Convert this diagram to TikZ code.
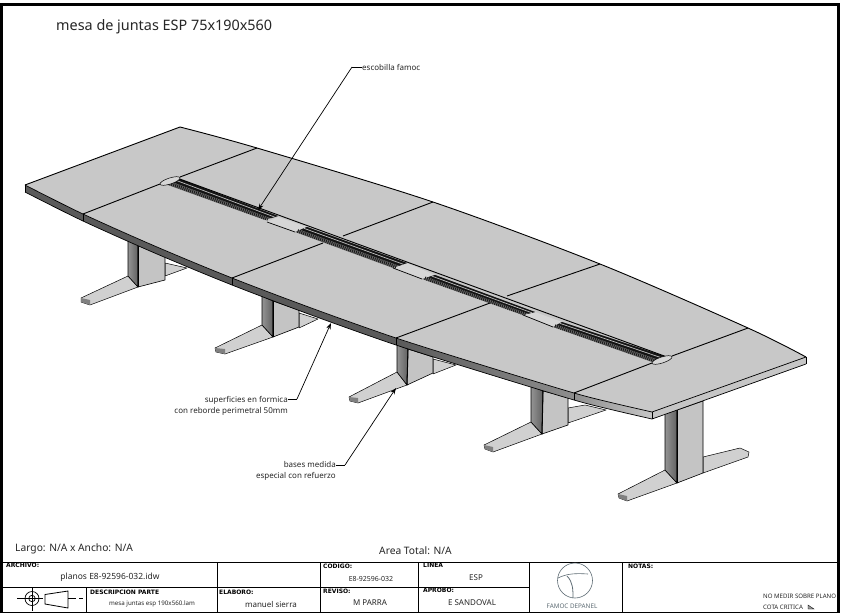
\documentclass[tikz,border=0pt]{standalone}
\usepackage{fontspec}
\setmainfont{Noto Sans}
\newfontfamily\headfont{DejaVu Sans}
\usetikzlibrary{calc,arrows.meta,shapes.geometric}
\definecolor{tabletop}{HTML}{C8C8C8}
\definecolor{edgedark}{HTML}{5A5A5A}
\definecolor{edgemid}{HTML}{8E8E8E}
\definecolor{edgelight}{HTML}{C6C6C6}
\definecolor{legface}{HTML}{C4C4C4}
\definecolor{footlight}{HTML}{D0D0D0}
\definecolor{footdark}{HTML}{808080}
\definecolor{gapfill}{HTML}{D6D6D6}
\definecolor{logoline}{HTML}{5E6C74}
\tikzset{
  ln/.style={draw=black,line width=.7pt,line join=round},
  seam/.style={draw=black,line width=.9pt},
  cap1/.style={inner sep=0pt,font=\fontsize{8}{11}\selectfont,text=black!85},
  leader/.style={draw=black,line width=.7pt},
  leaderarrow/.style={draw=black,line width=.7pt,-{Stealth[length=6.5pt,width=4.5pt]}},
  frame/.style={draw=black,line width=3pt},
  grid/.style={draw=black,line width=.8pt},
  head/.style={inner sep=0pt,anchor=west,font=\fontsize{6}{7}\headfont\bfseries},
  val/.style={inner sep=0pt,font=\fontsize{8}{9}\selectfont,text=black!85},
  tiny/.style={inner sep=0pt,font=\fontsize{6.2}{7}\selectfont,text=black!85},
  rearfoot/.style={fill=footlight,draw=black,line width=.5pt,line join=round},
}
\newcommand{\legpart}[9]{%
  \fill[footlight,draw=black,line width=.5pt,line join=round] #6 -- #7 -- #8 -- #9 -- #5 -- cycle;
  \fill[footdark] #7 -- #8 -- #9 -- ($#9+(0,-5)$) -- cycle;
  \shade[left color=black!42,right color=black!62] #1 -- #2 -- #5 -- #6 -- cycle;
  \draw[black,line width=.6pt,line join=round] #1 -- #2 -- #5 -- #6 -- cycle;
  \fill[legface,draw=black,line width=.6pt,line join=round] #2 -- #3 -- #4 -- #5 -- cycle;
  \draw[black,line width=1pt] #2 -- #5;
}
\newcommand{\slotpart}[4]{%
  \fill[black!58] #1 -- #2 -- #3 -- #4 -- cycle;
  \fill[black!92] #1 -- ($#1!.55!#2$) -- ($#4!.55!#3$) -- #4 -- cycle;
  \draw[black!25,line width=.7pt] ($#1!.26!#2$) -- ($#4!.26!#3$);
  \draw[black!90,line width=3.4pt,dash pattern=on .9pt off 1.1pt] ($#1!.78!#2$) -- ($#4!.78!#3$);
}
\begin{document}
\begin{tikzpicture}[x=1pt,y=-1pt]
\useasboundingbox (0,0) rectangle (850,613);
\fill[white] (0,0) rectangle (850,613);

% ---- rear feet ----
\path[rearfoot] (165,263) -- (187,268) -- (165,276) -- cycle;
\path[rearfoot] (299,313) -- (318,319) -- (299,328) -- cycle;
\path[rearfoot] (433,359) -- (456,365) -- (433,374) -- cycle;
\path[rearfoot] (568,408) -- (585,405) -- (606,410) -- (568,423) -- cycle;
\path[rearfoot] (703,457) -- (740,448) -- (749,452) -- (748,457) -- (703,473) -- cycle;

% ---- legs ----
\legpart{(128,240)}{(138,244)}{(165,254)}{(165,280)}{(138,287)}{(128,276)}{(81,298)}{(81,302)}{(90,305)}
\legpart{(262,296)}{(273,301)}{(299,310)}{(299,327)}{(273,337)}{(262,325)}{(215,348)}{(216,352)}{(225,354)}
\legpart{(397,345)}{(408,349)}{(433,357)}{(433,373)}{(407,385)}{(397,372)}{(349,397)}{(350,401)}{(358,403)}
\legpart{(531,386)}{(543,391)}{(568,397)}{(568,425)}{(542,434)}{(531,422)}{(484,445)}{(485,449)}{(493,452)}
\legpart{(665,413)}{(677,410)}{(703,401)}{(703,473)}{(677,483)}{(665,470)}{(618,494)}{(619,498)}{(627,501)}

% ---- table coordinates ----
\coordinate (tA) at (25,185);
\coordinate (f1) at (83,214);
\coordinate (f2) at (232,278);
\coordinate (f3) at (396,338);
\coordinate (f4) at (574,393);
\coordinate (tC) at (652,412);
\coordinate (tD) at (806,357);
\coordinate (b4) at (748,328);
\coordinate (b3) at (600,264);
\coordinate (b2) at (433,202);
\coordinate (b1) at (257,148);
\coordinate (tB) at (180,127);

% ---- table edge ----
\begin{scope}
  \clip (tA) -- plot[smooth,tension=.5] coordinates {(25,192) (83,221) (157,254) (232,285) (314,316) (396,345) (485,373) (574,400) (613,410) (652,419)} -- (806,364) -- (tD) -- cycle;
  \fill[edgedark] (20,150) rectangle (396,430);
  \shade[left color=edgedark,right color=edgemid] (396,150) rectangle (574,430);
  \shade[left color=edgemid,right color=edgelight] (574,150) rectangle (652,430);
  \fill[edgelight] (652,150) rectangle (810,430);
\end{scope}
\draw[ln] plot[smooth,tension=.5] coordinates {(25,192) (83,221) (157,254) (232,285) (314,316) (396,345) (485,373) (574,400) (613,410) (652,419)} -- (806,364);

% ---- table top ----
\fill[tabletop] (tB) -- (tA) -- plot[smooth,tension=.5] coordinates {(tA) (f1) (157,247) (f2) (314,309) (f3) (485,366) (f4) (613,403) (tC)} -- (tD) -- plot[smooth,tension=.5] coordinates {(tD) (b4) (b3) (b2) (b1) (tB)} -- cycle;
\draw[ln,line width=.9pt] plot[smooth,tension=.5] coordinates {(tD) (b4) (b3) (b2) (b1) (tB)} -- (tA);
\draw[ln] plot[smooth,tension=.5] coordinates {(tA) (f1) (157,247) (f2) (314,309) (f3) (485,366) (f4) (613,403) (tC)} -- (tD);
\draw[ln] (tA) -- +(0,7) (f1) -- +(0,7) (f2) -- +(0,7) (f3) -- +(0,7) (f4) -- +(0,7) (tC) -- +(0,7) (tD) -- +(0,7);

% ---- panel gaps between slots ----
\fill[gapfill] (278,217) -- (267,222) -- (295,232) -- (307,227) -- cycle;
\fill[gapfill] (407,263) -- (393,268) -- (422,279) -- (435,275) -- cycle;
\fill[gapfill] (535,312) -- (523,315) -- (553,327) -- (562,322) -- cycle;
\draw[ln] (267,222) -- (295,232);
\draw[ln] (393,268) -- (422,279);
\draw[ln] (523,315) -- (553,327);

% ---- slots ----
\slotpart{(177,178)}{(165,184)}{(265,220)}{(278,216)}
\slotpart{(307,227)}{(295,232)}{(393,268)}{(407,263)}
\slotpart{(435,275)}{(422,279)}{(523,315)}{(535,312)}
\slotpart{(562,322)}{(553,327)}{(652,362)}{(667,357)}
\draw[black,line width=.9pt] (177,178) -- (667,357);

% ---- end caps ----
\draw[line width=.5pt,fill=gapfill,rotate around={18:(170,181)}] (170,181) ellipse [x radius=10.5,y radius=3];
\draw[line width=.5pt,fill=gapfill,rotate around={18:(662,360)}] (662,360) ellipse [x radius=10.5,y radius=3];

% ---- seams ----
\coordinate (s1a) at (160,184); \coordinate (s1b) at (180,177);
\coordinate (s2a) at (323,243); \coordinate (s2b) at (343,236);
\coordinate (s3a) at (490,303); \coordinate (s3b) at (507,296);
\coordinate (s4a) at (652,363); \coordinate (s4b) at (672,356);
\draw[seam] (f1) -- (s1a) (s1b) -- (b1);
\draw[seam] (f2) -- (s2a) (s2b) -- (b2);
\draw[seam] (f3) -- (s3a) (s3b) -- (b3);
\draw[seam] (f4) -- (s4a) (s4b) -- (b4);

% ---- title and labels ----
\node[inner sep=0pt,anchor=west,font=\fontsize{14.4}{16}\selectfont,text=black!85] (title) at (56,27) {mesa de juntas ESP 75x190x560};

\node[cap1,anchor=west] (lab1) at (362,67) {escobilla famoc};
\coordinate (k1) at (352,67);
\coordinate (t1) at (258,210);
\draw[leader] (lab1.west) -- (k1);
\draw[leaderarrow] (k1) -- (t1);

\node[cap1,anchor=east,align=right] (lab2) at (288,405.5) {superficies en formica\\con reborde perimetral 50mm};
\coordinate (k2) at (297,399);
\coordinate (t2) at (331,323);
\draw[leader] (288,399) -- (k2);
\draw[leaderarrow] (k2) -- (t2);

\node[cap1,anchor=east,align=right] (lab3) at (336,471) {bases medida\\especial con refuerzo};
\coordinate (k3) at (345,465);
\coordinate (t3) at (396,388);
\draw[leader] (336,465) -- (k3);
\draw[leaderarrow] (k3) -- (t3);

\node[inner sep=0pt,anchor=west,font=\fontsize{10.25}{12}\selectfont,text=black!85] (largo) at (15,549) {Largo: N/A x Ancho: N/A};
\node[inner sep=0pt,anchor=west,font=\fontsize{10.25}{12}\selectfont,text=black!85] (area) at (379,551) {Area Total: N/A};

% ---- title block ----
\draw[grid] (3,562) -- (837,562);
\draw[grid] (3,612) -- (837,612);
\draw[grid] (3,587) -- (529,587);
\draw[grid] (86,587) -- (86,612);
\draw[grid] (217,562) -- (217,612);
\draw[grid] (320,562) -- (320,612);
\draw[grid] (418,562) -- (418,612);
\draw[grid] (529,562) -- (529,612);
\draw[grid] (622,562) -- (622,612);

\node[head] (hArch) at (6,565.5) {ARCHIVO:};
\node[val,font=\fontsize{8.5}{10}\selectfont] (vArch) at (110,577) {planos E8-92596-032.idw};
\node[head] (hDesc) at (90,592) {DESCRIPCION PARTE};
\node[tiny] (vDesc) at (152,604) {mesa juntas esp 190x560.lam};
\node[head] (hElab) at (219,592) {ELABORO:};
\node[val] (vElab) at (271,604) {manuel sierra};
\node[head] (hCod) at (323,566.5) {CODIGO:};
\node[tiny,font=\fontsize{7}{8}\selectfont] (vCod) at (371,579) {E8-92596-032};
\node[head] (hRev) at (323,591.5) {REVISO:};
\node[val] (vRev) at (370,603) {M PARRA};
\node[head] (hLin) at (423,565.5) {LINEA};
\node[val] (vLin) at (476,578) {ESP};
\node[head] (hApr) at (423,590.5) {APROBO:};
\node[val] (vApr) at (472,603) {E SANDOVAL};
\node[head] (hNot) at (628,566.5) {NOTAS:};
\node[tiny,anchor=west,font=\fontsize{6.1}{7}\selectfont] (vNo) at (763,596) {NO MEDIR SOBRE PLANO};
\node[tiny,anchor=west,font=\fontsize{6.1}{7}\selectfont] (vCota) at (763,607) {COTA CRITICA};
\draw[line width=.4pt,fill=black!40] (808,609) -- (808,605) -- (814,609) -- cycle;

% ---- frame ----
\draw[frame] (1.5,613) -- (1.5,4.5) -- (838.5,4.5) -- (838.5,613);

% ---- projection symbol ----
\draw[line width=.7pt] (32,598.5) circle [radius=7];
\draw[line width=.7pt] (32,598.5) circle [radius=3.2];
\draw[line width=.6pt] (17,598.5) -- (43,598.5);
\draw[line width=.6pt] (32,588) -- (32,611);
\draw[line width=.8pt] (45,594.5) -- (68,591) -- (68,608) -- (45,604) -- cycle;
\draw[line width=.6pt] (68,598.5) -- (76,598.5);
\draw[line width=.6pt] (79,598.5) -- (83,598.5);

% ---- logo ----
\draw[logoline,line width=.6pt] (575,580.5) circle [radius=17.5];
\draw[logoline,line width=.6pt] (558,578) .. controls (566,574) and (574,573) .. (588,574);
\draw[logoline,line width=.8pt] (573,598) .. controls (573,590) and (573,582) .. (567,576);
\node[inner sep=0pt,font=\fontsize{6.3}{7}\selectfont\bfseries,text=logoline] (logo) at (572,606) {FAMOC DEPANEL};
\end{tikzpicture}
\end{document}
